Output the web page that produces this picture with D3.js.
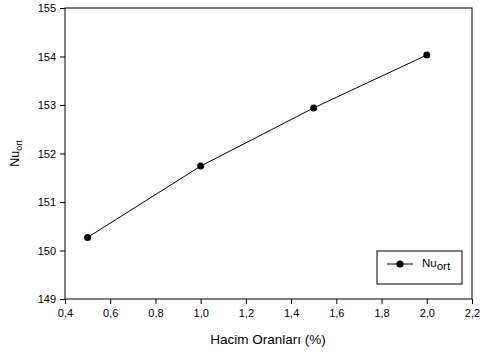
<!DOCTYPE html>
<meta charset="utf-8">
<script src="https://d3js.org/d3.v7.min.js"></script>
<style>
  body { margin: 0; background: #fff; }
  text { font-family: "Liberation Sans", Arial, sans-serif; fill: #000; }
</style>
<body>
<div id="chart"></div>
<script>
  // data
  var xValues = [0.5, 1.0, 1.5, 2.0]
  var nuValues = [150.27, 151.74, 152.94, 154.03]
  var xTicks = [0.4, 0.6, 0.8, 1.0, 1.2, 1.4, 1.6, 1.8, 2.0, 2.2]
  var yTicks = [149, 150, 151, 152, 153, 154, 155]

  var width = 480, height = 354
  var plotLeft = 65, plotRight = 472, plotTop = 8, plotBottom = 299

  var svg = d3.select("#chart").append("svg")
    .attr("width", width)
    .attr("height", height)

  var x = d3.scaleLinear().domain([0.4, 2.2]).range([plotLeft, plotRight])
  var y = d3.scaleLinear().domain([149, 155]).range([plotBottom, plotTop])

  var fmt = function(d) { return d3.format(".1f")(d).replace(".", ",") }

  // frame
  svg.append("rect")
    .attr("x", plotLeft).attr("y", plotTop)
    .attr("width", plotRight - plotLeft).attr("height", plotBottom - plotTop)
    .attr("fill", "none").attr("stroke", "#000").attr("stroke-width", 1)

  svg.append("g")
    .attr("transform", "translate(0," + plotBottom + ")")
    .call(d3.axisBottom(x).tickValues(xTicks).tickFormat(fmt).tickSize(5).tickPadding(5))
  svg.append("g")
    .attr("transform", "translate(" + plotLeft + ",0)")
    .call(d3.axisLeft(y).tickValues(yTicks).tickFormat(d3.format("d")).tickSize(5).tickPadding(4))

  svg.selectAll(".domain").remove()
  svg.selectAll(".tick text").style("font-size", "11px").style("font-family", "Liberation Sans, Arial, sans-serif")

  // series
  var pts = xValues.map(function(d, i) { return [d, nuValues[i]] })
  svg.append("path")
    .datum(pts)
    .attr("fill", "none")
    .attr("stroke", "#000")
    .attr("stroke-width", 1)
    .attr("d", d3.line().x(function(d) { return x(d[0]) }).y(function(d) { return y(d[1]) }))

  svg.selectAll(".dot")
    .data(pts)
    .enter().append("circle")
    .attr("cx", function(d) { return x(d[0]) })
    .attr("cy", function(d) { return y(d[1]) })
    .attr("r", 3.5)
    .attr("fill", "#000")

  // axis titles
  svg.append("text")
    .attr("x", 268).attr("y", 344)
    .attr("text-anchor", "middle")
    .style("font-size", "13.5px")
    .text("Hacim Oranları (%)")

  var yl = svg.append("text")
    .attr("transform", "translate(19," + ((plotTop + plotBottom) / 2) + ") rotate(-90)")
    .attr("text-anchor", "middle")
    .style("font-size", "12.5px")
  yl.append("tspan").text("Nu")
  yl.append("tspan").attr("dy", 3).style("font-size", "9px").text("ort")

  // legend
  var lg = svg.append("g").attr("transform", "translate(377,251)")
  lg.append("rect").attr("width", 85).attr("height", 33)
    .attr("fill", "#fff").attr("stroke", "#000").attr("stroke-width", 1)
  lg.append("line").attr("x1", 10).attr("x2", 36).attr("y1", 13).attr("y2", 13)
    .attr("stroke", "#000")
  lg.append("circle").attr("cx", 23).attr("cy", 13).attr("r", 3.5).attr("fill", "#000")
  var lt = lg.append("text").attr("x", 45).attr("y", 16).style("font-size", "11.5px")
  lt.append("tspan").text("Nu")
  lt.append("tspan").attr("dy", 3).text("ort")
</script>
</body>
